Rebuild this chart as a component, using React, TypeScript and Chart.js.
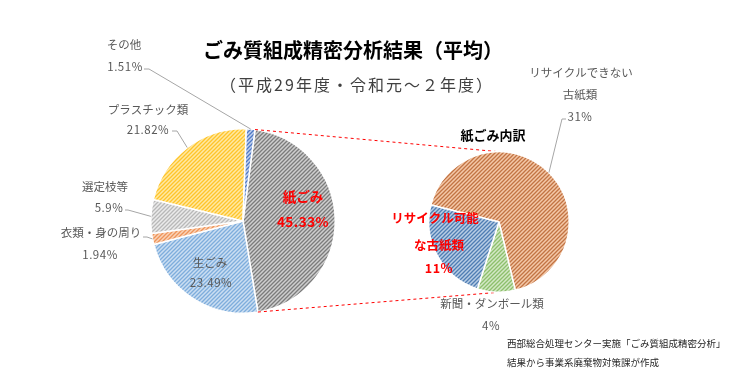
import React, { useEffect, useRef } from "react";
import { Chart, registerables } from "chart.js";

Chart.register(...registerables);

// ---------- data ----------
const mainCategories = ["紙ごみ", "生ごみ", "衣類・身の周り", "選定枝等", "プラスチック類", "その他"];
const mainValues = [45.33, 23.49, 1.94, 5.9, 21.82, 1.51];
const paperCategories = ["リサイクルできない古紙類", "新聞・ダンボール類", "リサイクル可能な古紙類"];
const paperValues = [31, 4, 11];
const titleText = "ごみ質組成精密分析結果（平均）";
const subtitleText = "（平成29年度・令和元～２年度）";
const paperTitle = "紙ごみ内訳";
const sourceNote = ["西部総合処理センター実施「ごみ質組成精密分析」", "結果から事業系廃棄物対策課が作成"];

// ---------- styles ----------
const FONT = "'Noto Sans CJK JP', 'Noto Sans', sans-serif";
const mainColors: [string, string][] = [
  ["#cfcfcf", "#7c7c7c"],
  ["#cbdef2", "#7eaddc"],
  ["#fad3b8", "#ee9459"],
  ["#ebebeb", "#b8b8b8"],
  ["#ffe9a3", "#fec42a"],
  ["#c3d3ee", "#4e78c6"],
];
const paperColors: [string, string][] = [
  ["#f4c8a8", "#c27444"],
  ["#d3e8c5", "#8dbf6c"],
  ["#b8cde5", "#4f7db3"],
];

type Lbl = {
  lines: [number, number][];
  wrap?: number;
  pct: [number, number];
  color: string;
  size: number;
  bold?: boolean;
  leader?: [number, number][];
};

const mainLayout: Lbl[] = [
  { lines: [[303, 197]], pct: [303, 222], color: "#ff0000", size: 13.5, bold: true },
  { lines: [[210, 263]], pct: [211, 283], color: "#595959", size: 11.5 },
  { lines: [[101, 233]], pct: [100, 255], color: "#595959", size: 11.5, leader: [[143, 237], [147, 237]] },
  { lines: [[105, 187]], pct: [109, 208], color: "#595959", size: 11.5, leader: [[125, 210], [128, 210]] },
  { lines: [[148, 110]], pct: [148, 130], color: "#595959", size: 11.5, leader: [[172, 131], [177, 131]] },
  { lines: [[124, 45]], pct: [125, 67], color: "#595959", size: 11.5, leader: [[144, 69], [149, 69]] },
];
const paperLayout: Lbl[] = [
  { lines: [[581, 73], [580, 95]], wrap: 9, pct: [580, 117], color: "#595959", size: 11.5, leader: [[566, 119], [562, 119]] },
  { lines: [[492, 304]], pct: [491, 326], color: "#595959", size: 11.5 },
  { lines: [[435, 218], [439, 245]], wrap: 7, pct: [439, 268], color: "#ff0000", size: 12.5, bold: true },
];

function hatch(base: string, stripe: string) {
  const c = document.createElement("canvas");
  c.width = 4;
  c.height = 4;
  const g = c.getContext("2d")!;
  g.fillStyle = base;
  g.fillRect(0, 0, 4, 4);
  g.strokeStyle = stripe;
  g.lineWidth = 1.3;
  g.beginPath();
  g.moveTo(-1, 5);
  g.lineTo(5, -1);
  g.moveTo(-1, 1);
  g.lineTo(1, -1);
  g.moveTo(3, 5);
  g.lineTo(5, 3);
  g.stroke();
  return g.createPattern(c, "repeat")!;
}

function drawText(ctx: CanvasRenderingContext2D, s: string, x: number, y: number, size: number, color: string, bold = false, align: CanvasTextAlign = "center", spacing = "0px") {
  ctx.save();
  ctx.font = `${bold ? "bold " : ""}${size}px ${FONT}`;
  ctx.fillStyle = color;
  ctx.textAlign = align;
  ctx.textBaseline = "middle";
  (ctx as any).letterSpacing = spacing;
  ctx.fillText(s, x, y);
  ctx.restore();
}

function drawLabels(chart: Chart, names: string[], values: number[], layout: Lbl[]) {
  const ctx = chart.ctx;
  const meta = chart.getDatasetMeta(0);
  layout.forEach((l, i) => {
    const name = names[i];
    const parts = l.wrap ? [name.slice(0, l.wrap), name.slice(l.wrap)] : [name];
    parts.forEach((p, j) => drawText(ctx, p, l.lines[j][0], l.lines[j][1], l.size, l.color, l.bold));
    drawText(ctx, `${values[i]}%`, l.pct[0], l.pct[1], l.size, l.color, l.bold, "center", "0.5px");
    if (l.leader) {
      const arc: any = meta.data[i];
      const { x, y, startAngle, endAngle, outerRadius } = arc.getProps(["x", "y", "startAngle", "endAngle", "outerRadius"], true);
      const mid = (startAngle + endAngle) / 2;
      ctx.save();
      ctx.strokeStyle = "#a6a6a6";
      ctx.lineWidth = 1;
      ctx.beginPath();
      ctx.moveTo(l.leader[0][0], l.leader[0][1]);
      for (let k = 1; k < l.leader.length; k++) ctx.lineTo(l.leader[k][0], l.leader[k][1]);
      ctx.lineTo(x + Math.cos(mid) * outerRadius, y + Math.sin(mid) * outerRadius);
      ctx.stroke();
      ctx.restore();
    }
  });
}

export default function App() {
  const leftRef = useRef<HTMLCanvasElement>(null);
  const rightRef = useRef<HTMLCanvasElement>(null);

  useEffect(() => {
    const right = new Chart(rightRef.current!, {
      type: "pie",
      data: {
        labels: paperCategories,
        datasets: [
          {
            data: paperValues,
            backgroundColor: paperColors.map(([b, s]) => hatch(b, s)) as any,
            borderColor: "#ffffff",
            borderWidth: 1.5,
          },
        ],
      },
      options: {
        responsive: false,
        animation: false,
        events: [],
        rotation: 284,
        layout: { padding: { left: 428, right: 180, top: 151, bottom: 88 } },
        plugins: { legend: { display: false }, tooltip: { enabled: false } },
      },
      plugins: [
        {
          id: "paperLabels",
          afterDatasetsDraw(chart: Chart) {
            drawText(chart.ctx, paperTitle, 493, 135, 13, "#000000", true);
            drawLabels(chart, paperCategories, paperValues, paperLayout);
            drawText(chart.ctx, sourceNote[0], 507, 343, 9.5, "#262626", false, "left");
            drawText(chart.ctx, sourceNote[1], 507, 362, 9.5, "#262626", false, "left");
          },
        },
      ],
    });

    const left = new Chart(leftRef.current!, {
      type: "pie",
      data: {
        labels: mainCategories,
        datasets: [
          {
            data: mainValues,
            backgroundColor: mainColors.map(([b, s]) => hatch(b, s)) as any,
            borderColor: "#ffffff",
            borderWidth: 1.5,
          },
        ],
      },
      options: {
        responsive: false,
        animation: false,
        events: [],
        rotation: 7.5,
        layout: { padding: { left: 150, right: 414, top: 128, bottom: 67 } },
        plugins: { legend: { display: false }, tooltip: { enabled: false } },
      },
      plugins: [
        {
          id: "mainLabels",
          afterDatasetsDraw(chart: Chart) {
            const ctx = chart.ctx;
            drawText(ctx, titleText, 353, 50, 20, "#000000", true);
            drawText(ctx, subtitleText, 357, 85, 16, "#404040", false, "center", "2px");
            drawLabels(chart, mainCategories, mainValues, mainLayout);
            const a: any = chart.getDatasetMeta(0).data[0];
            const p = a.getProps(["x", "y", "startAngle", "endAngle", "outerRadius"], true);
            const b: any = right.getDatasetMeta(0).data[0];
            const q = b.getProps(["x", "y", "outerRadius"], true);
            ctx.save();
            ctx.strokeStyle = "#ff0000";
            ctx.lineWidth = 1;
            ctx.setLineDash([3, 3]);
            ctx.beginPath();
            ctx.moveTo(p.x + Math.cos(p.startAngle) * p.outerRadius, p.y + Math.sin(p.startAngle) * p.outerRadius);
            ctx.lineTo(q.x, q.y - q.outerRadius);
            ctx.moveTo(p.x + Math.cos(p.endAngle) * p.outerRadius, p.y + Math.sin(p.endAngle) * p.outerRadius);
            ctx.lineTo(q.x, q.y + q.outerRadius);
            ctx.stroke();
            ctx.restore();
          },
        },
      ],
    });

    return () => {
      left.destroy();
      right.destroy();
    };
  }, []);

  const cs: React.CSSProperties = { position: "absolute", left: 0, top: 0, width: 750, height: 381 };
  return (
    <div style={{ position: "fixed", left: 0, top: 0, width: 750, height: 381, background: "#ffffff" }}>
      <canvas ref={leftRef} width={750} height={381} style={cs} />
      <canvas ref={rightRef} width={750} height={381} style={cs} />
    </div>
  );
}
